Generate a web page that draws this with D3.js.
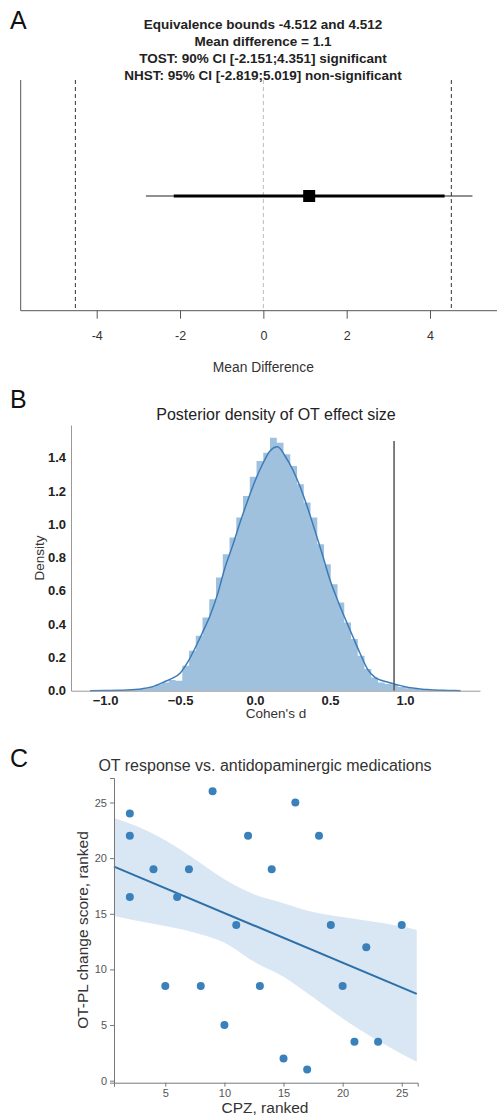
<!DOCTYPE html>
<html>
<head>
<meta charset="utf-8">
<script src="https://cdn.jsdelivr.net/npm/d3@7/dist/d3.min.js"></script>
<style>
  html, body { margin: 0; padding: 0; background: #fff; }
  svg { display: block; font-family: "Liberation Sans", Arial, Helvetica, sans-serif; }
</style>
</head>
<body>
<svg id="chart" width="497" height="1117"></svg>
<script>
// ---------------- Panel A data ----------------
const titleALines = [
  "Equivalence bounds -4.512 and 4.512",
  "Mean difference = 1.1",
  "TOST: 90% CI [-2.151;4.351] significant",
  "NHST: 95% CI [-2.819;5.019] non-significant"
];
const eqBounds = [-4.512, 4.512];
const meanDiff = 1.1;
const ci90 = [-2.151, 4.351];
const ci95 = [-2.819, 5.019];
const ticksA = [-4, -2, 0, 2, 4];

// ---------------- Panel B data ----------------
const histStart = -0.98;
const histWidth = 0.045;
const histHeights = [
  0.001, 0.002, 0.003, 0.005, 0.009, 0.014, 0.024, 0.038, 0.050, 0.065,
  0.060, 0.150, 0.240, 0.330, 0.440, 0.550, 0.680, 0.820, 0.920, 1.040,
  1.170, 1.285, 1.380, 1.430, 1.520, 1.490, 1.420, 1.350, 1.240, 1.130,
  1.040, 0.880, 0.760, 0.640, 0.530, 0.410, 0.310, 0.210, 0.130, 0.080,
  0.050, 0.040, 0.035, 0.022, 0.015, 0.010, 0.006, 0.004, 0.002, 0.001
];
const kdeX = [-1.10, -1.00, -0.90, -0.85, -0.80, -0.75, -0.70, -0.65, -0.60, -0.55,
  -0.50, -0.45, -0.40, -0.35, -0.30, -0.25, -0.20, -0.15, -0.10, -0.05,
  0.00, 0.05, 0.10, 0.15, 0.20, 0.25, 0.30, 0.35, 0.40, 0.45,
  0.50, 0.55, 0.60, 0.65, 0.70, 0.75, 0.80, 0.85, 0.90, 0.95,
  1.00, 1.05, 1.10, 1.15, 1.20, 1.25, 1.30, 1.37];
const kdeY = [0.000, 0.001, 0.002, 0.004, 0.007, 0.012, 0.020, 0.035, 0.055, 0.075,
  0.105, 0.170, 0.255, 0.350, 0.450, 0.580, 0.740, 0.870, 1.010, 1.140,
  1.260, 1.360, 1.440, 1.465, 1.410, 1.330, 1.226, 1.100, 0.960, 0.815,
  0.665, 0.545, 0.435, 0.330, 0.225, 0.130, 0.080, 0.060, 0.048, 0.035,
  0.024, 0.016, 0.010, 0.007, 0.004, 0.002, 0.001, 0.000];
const vlineB = 0.927;
const vlineBTop = 1.5;
const ticksBX = [-1.0, -0.5, 0.0, 0.5, 1.0];
const ticksBY = [0.0, 0.2, 0.4, 0.6, 0.8, 1.0, 1.2, 1.4];

// ---------------- Panel C data ----------------
const cpzRank = [2, 2, 2, 9, 16, 12, 18, 4, 7, 14, 6, 11, 19, 25, 22, 5, 8, 13, 20, 10, 21, 23, 15, 17];
const otRank  = [24, 22, 16.5, 26, 25, 22, 22, 19, 19, 19, 16.5, 14, 14, 14, 12, 8.5, 8.5, 8.5, 8.5, 5, 3.5, 3.5, 2, 1];
const regX = [0.66, 26.27];
const regY = [19.24, 7.80];
const bandX     = [0.66, 2.5, 5, 7.5, 10, 12.5, 15, 17.5, 20, 22.5, 25, 26.27];
const bandUpper = [23.6, 22.9, 21.6, 19.9, 18.1, 16.75, 15.95, 15.15, 14.7, 14.3, 13.85, 13.55];
const bandLower = [14.8, 14.4, 13.9, 13.3, 12.4, 10.7, 9.35, 7.5, 5.6, 3.9, 2.4, 1.71];
const ticksCX = [5, 10, 15, 20, 25];
const ticksCY = [0, 5, 10, 15, 20, 25];

// =================================================
const svg = d3.select("#chart");
const FONT = '"Liberation Sans", Arial, sans-serif';

function panelLabel(t, x, y) {
  svg.append("text").attr("x", x).attr("y", y).attr("font-size", 25)
    .attr("fill", "#111").text(t);
}

// ---------------- Panel A ----------------
(function () {
  const g = svg.append("g");
  const x = d3.scaleLinear().domain([-4, 4]).range([96.7, 430]);
  const yTop = 80, yBot = 310.7, yCI = 196;
  const leftX = 20.7;

  panelLabel("A", 10, 29);

  g.selectAll("text.ta").data(titleALines).join("text")
    .attr("class", "ta")
    .attr("x", 263).attr("y", (d, i) => 28.5 + i * 17)
    .attr("text-anchor", "middle").attr("font-size", 13.5).attr("font-weight", "bold")
    .attr("fill", "#222").text(d => d);

  g.append("line").attr("x1", x(0)).attr("x2", x(0)).attr("y1", yTop).attr("y2", yBot)
    .attr("stroke", "#bbb").attr("stroke-width", 1).attr("stroke-dasharray", "4,3");
  g.selectAll("line.eq").data(eqBounds).join("line").attr("class", "eq")
    .attr("x1", d => x(d)).attr("x2", d => x(d)).attr("y1", yTop).attr("y2", yBot)
    .attr("stroke", "#333").attr("stroke-width", 1).attr("stroke-dasharray", "4,3");

  g.append("line").attr("x1", x(ci95[0])).attr("x2", x(ci95[1])).attr("y1", yCI).attr("y2", yCI)
    .attr("stroke", "#222").attr("stroke-width", 1);
  g.append("line").attr("x1", x(ci90[0])).attr("x2", x(ci90[1])).attr("y1", yCI).attr("y2", yCI)
    .attr("stroke", "#000").attr("stroke-width", 3);
  g.append("rect").attr("x", x(meanDiff) - 6).attr("y", yCI - 6).attr("width", 12).attr("height", 12)
    .attr("fill", "#000");

  g.append("line").attr("x1", leftX).attr("x2", leftX).attr("y1", yTop).attr("y2", yBot)
    .attr("stroke", "#555").attr("stroke-width", 1);
  const ax = g.append("g").attr("transform", `translate(0,${yBot})`)
    .call(d3.axisBottom(x).tickValues(ticksA).tickSize(8).tickPadding(12).tickFormat(d => String(d)));
  ax.select(".domain").remove();
  ax.append("line").attr("x1", leftX).attr("x2", 497).attr("y1", 0).attr("y2", 0)
    .attr("stroke", "#555").attr("stroke-width", 1);
  ax.selectAll(".tick line").attr("stroke", "#555");
  ax.selectAll(".tick text").attr("font-size", 12.5).attr("fill", "#333").attr("font-family", FONT);

  g.append("text").attr("x", x(0)).attr("y", 372).attr("text-anchor", "middle")
    .attr("font-size", 13.8).attr("fill", "#333").text("Mean Difference");
})();

// ---------------- Panel B ----------------
(function () {
  const g = svg.append("g");
  const x = d3.scaleLinear().domain([-1.227, 1.5]).range([71, 480]);
  const y = d3.scaleLinear().domain([0, 1.596]).range([690.7, 425]);

  panelLabel("B", 10, 408);

  g.append("text").attr("x", 276).attr("y", 420).attr("text-anchor", "middle")
    .attr("font-size", 16).attr("fill", "#222").text("Posterior density of OT effect size");

  // histogram as a single stepped area (no seams between bars)
  const steps = histHeights.map((h, i) => [histStart + i * histWidth, h]);
  steps.push([histStart + histHeights.length * histWidth, 0]);
  g.append("path").datum(steps)
    .attr("d", d3.area().x(d => x(d[0])).y0(y(0)).y1(d => y(d[1])).curve(d3.curveStepAfter))
    .attr("fill", "#9fc1de").attr("stroke", "none");

  const kde = kdeX.map((v, i) => [v, kdeY[i]]);
  g.append("path").datum(kde)
    .attr("d", d3.line().x(d => x(d[0])).y(d => y(d[1])).curve(d3.curveMonotoneX))
    .attr("fill", "none").attr("stroke", "#3b7cb8").attr("stroke-width", 1.5);

  g.append("line").attr("x1", x(vlineB)).attr("x2", x(vlineB)).attr("y1", y(0)).attr("y2", y(vlineBTop))
    .attr("stroke", "#555").attr("stroke-width", 1.5);

  const ax = g.append("g").attr("transform", `translate(0,${y(0)})`)
    .call(d3.axisBottom(x).tickValues(ticksBX).tickSize(0).tickPadding(5).tickFormat(d3.format(".1f")));
  ax.select(".domain").attr("stroke", "#999");
  ax.selectAll(".tick text").attr("font-size", 13).attr("font-weight", "bold").attr("fill", "#222")
    .attr("font-family", FONT);
  const ay = g.append("g").attr("transform", `translate(${x.range()[0]},0)`)
    .call(d3.axisLeft(y).tickValues(ticksBY).tickSize(0).tickPadding(5).tickFormat(d3.format(".1f")));
  ay.select(".domain").attr("stroke", "#999");
  ay.selectAll(".tick text").attr("font-size", 13).attr("font-weight", "bold").attr("fill", "#222")
    .attr("font-family", FONT);

  g.append("text").attr("x", 276).attr("y", 718).attr("text-anchor", "middle")
    .attr("font-size", 13.5).attr("fill", "#333").text("Cohen's d");
  g.append("text").attr("transform", `translate(44,558) rotate(-90)`).attr("text-anchor", "middle")
    .attr("font-size", 13.5).attr("fill", "#333").text("Density");
})();

// ---------------- Panel C ----------------
(function () {
  const g = svg.append("g");
  const x = d3.scaleLinear().domain([0.66, 26.35]).range([114, 417.7]);
  const y = d3.scaleLinear().domain([-0.18, 27.2]).range([1082.7, 778]);

  panelLabel("C", 10, 767);

  g.append("text").attr("x", 265).attr("y", 771).attr("text-anchor", "middle")
    .attr("font-size", 16).attr("fill", "#333").text("OT response vs. antidopaminergic medications");

  const band = bandX.map((v, i) => [v, bandLower[i], bandUpper[i]]);
  g.append("path").datum(band)
    .attr("d", d3.area().x(d => x(d[0])).y0(d => y(d[1])).y1(d => y(d[2])).curve(d3.curveMonotoneX))
    .attr("fill", "#d9e7f4").attr("stroke", "none");

  g.append("line").attr("x1", x(regX[0])).attr("x2", x(regX[1])).attr("y1", y(regY[0])).attr("y2", y(regY[1]))
    .attr("stroke", "#2d70a8").attr("stroke-width", 2);

  g.selectAll("circle.pt").data(cpzRank).join("circle").attr("class", "pt")
    .attr("cx", d => x(d)).attr("cy", (d, i) => y(otRank[i])).attr("r", 4)
    .attr("fill", "#3a80bb");

  const ax = g.append("g").attr("transform", `translate(0,${y.range()[0]})`)
    .call(d3.axisBottom(x).tickValues(ticksCX).tickSize(4).tickPadding(3));
  const ay = g.append("g").attr("transform", `translate(${x.range()[0]},0)`)
    .call(d3.axisLeft(y).tickValues(ticksCY).tickSize(4).tickPadding(3));
  [ax, ay].forEach(a => {
    a.select(".domain").attr("stroke", "#777");
    a.selectAll(".tick line").attr("stroke", "#777");
    a.selectAll(".tick text").attr("font-size", 11).attr("fill", "#555").attr("font-family", FONT);
  });

  g.append("text").attr("x", 265).attr("y", 1113).attr("text-anchor", "middle")
    .attr("font-size", 15.5).attr("fill", "#333").text("CPZ, ranked");
  g.append("text").attr("transform", `translate(88,930) rotate(-90)`).attr("text-anchor", "middle")
    .attr("font-size", 15.5).attr("fill", "#333").text("OT-PL change score, ranked");
})();
</script>
</body>
</html>
